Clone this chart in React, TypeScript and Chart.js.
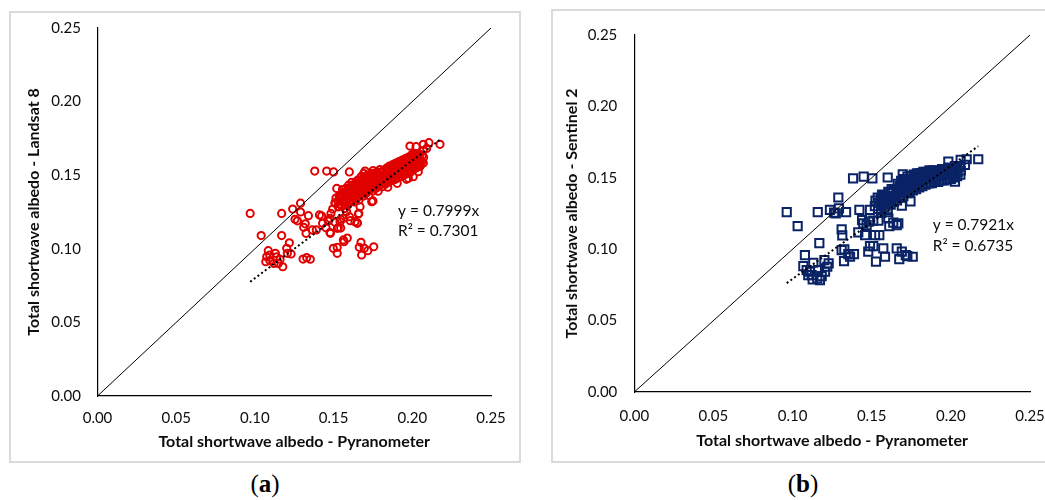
import React, { useEffect, useRef } from "react";
import { Chart, registerables } from "chart.js";

Chart.register(...registerables);

// ---------- data ----------
const tickValues = [0, 0.05, 0.1, 0.15, 0.2, 0.25];
const xAxisTitle = "Total shortwave albedo - Pyranometer";
const yAxisTitleA = "Total shortwave albedo - Landsat 8";
const yAxisTitleB = "Total shortwave albedo - Sentinel 2";
const panelLabels = ["a", "b"];

const slopeLandsat8 = 0.7999;
const r2Landsat8 = 0.7301;
const slopeSentinel2 = 0.7921;
const r2Sentinel2 = 0.6735;

// [pyranometer, Landsat 8]
const landsat8Scattered: [number, number][] = [
  [0.097, 0.124], [0.104, 0.109], [0.117, 0.124], [0.117, 0.109], [0.124, 0.127],
  [0.129, 0.131], [0.129, 0.125], [0.1255, 0.12], [0.127, 0.119], [0.134, 0.1225],
  [0.131, 0.1146], [0.132, 0.117], [0.1325, 0.1105], [0.1365, 0.1128], [0.139, 0.1128],
  [0.138, 0.1528], [0.1456, 0.1528], [0.15, 0.1522], [0.16, 0.1522], [0.152, 0.141],
  [0.17, 0.1528], [0.175, 0.1325], [0.166, 0.124], [0.165, 0.1177], [0.16, 0.1218],
  [0.1606, 0.1191], [0.1545, 0.12], [0.1545, 0.1141], [0.1524, 0.1139], [0.148, 0.1105],
  [0.1424, 0.1223], [0.141, 0.123], [0.1452, 0.1143], [0.1466, 0.1189], [0.1494, 0.127],
  [0.1483, 0.124], [0.1566, 0.1048], [0.1587, 0.1073], [0.1498, 0.1003], [0.1523, 0.101],
  [0.1523, 0.0969], [0.1663, 0.101], [0.1674, 0.1044], [0.1678, 0.0958], [0.1695, 0.1003],
  [0.1717, 0.0987], [0.1755, 0.1014], [0.1306, 0.093], [0.1329, 0.094], [0.1352, 0.0929],
  [0.1085, 0.0987], [0.1075, 0.0946], [0.1069, 0.0912], [0.1096, 0.0919], [0.113, 0.0969],
  [0.1121, 0.0901], [0.116, 0.0929], [0.1177, 0.0878], [0.1149, 0.0901], [0.1206, 0.0969],
  [0.1219, 0.1041], [0.123, 0.0965], [0.1202, 0.1003], [0.1138, 0.0946], [0.143, 0.1173],
  [0.1477, 0.1207], [0.1477, 0.111], [0.153, 0.1143], [0.1541, 0.1184], [0.1509, 0.118],
  [0.1651, 0.1173], [0.1657, 0.1236], [0.1509, 0.1313], [0.153, 0.1286], [0.1742, 0.132],
  [0.1668, 0.1286], [0.1583, 0.1252], [0.1562, 0.1207], [0.1636, 0.1184], [0.1562, 0.106],
  [0.1094, 0.0958],
  [0.2176, 0.171], [0.2106, 0.1721], [0.207, 0.171], [0.2024, 0.1694], [0.1985, 0.1698],
  [0.2091, 0.1682], [0.207, 0.1667], [0.2038, 0.1637], [0.1996, 0.1626], [0.2006, 0.149],
  [0.2038, 0.1524], [0.1975, 0.1479], [0.1954, 0.1513], [0.2049, 0.1569], [0.2028, 0.1603],
];

const landsat8Dense: [number, number][] = [
  [0.151, 0.131], [0.1515, 0.1345], [0.153, 0.1285], [0.1528, 0.1322], [0.1535, 0.1358],
  [0.155, 0.1292], [0.1555, 0.1331], [0.1548, 0.1368], [0.1556, 0.1402],
  [0.157, 0.1308], [0.1575, 0.1352], [0.1568, 0.1384], [0.1572, 0.1274],
  [0.159, 0.1298], [0.1592, 0.1341], [0.1587, 0.1393], [0.1595, 0.1432],
  [0.161, 0.1329], [0.1612, 0.1372], [0.1606, 0.1413], [0.1615, 0.1452],
  [0.163, 0.1318], [0.1634, 0.1362], [0.1628, 0.1405], [0.1636, 0.1441],
  [0.165, 0.1345], [0.1652, 0.1392], [0.1646, 0.1428], [0.1655, 0.1468],
  [0.167, 0.1372], [0.1673, 0.1412], [0.1668, 0.1455], [0.1676, 0.1491], [0.1662, 0.1331],
  [0.169, 0.1358], [0.1692, 0.1401], [0.1688, 0.1443], [0.1695, 0.1482], [0.1691, 0.1512],
  [0.171, 0.1381], [0.1713, 0.1422], [0.1707, 0.1463], [0.1715, 0.1498],
  [0.173, 0.1402], [0.1734, 0.1441], [0.1728, 0.1478], [0.1736, 0.1511], [0.1724, 0.1362],
  [0.175, 0.1393], [0.1752, 0.1432], [0.1748, 0.1472], [0.1755, 0.1503], [0.1751, 0.1532],
  [0.177, 0.1412], [0.1773, 0.1451], [0.1768, 0.1489], [0.1776, 0.1522],
  [0.179, 0.1428], [0.1792, 0.1468], [0.1787, 0.1502], [0.1795, 0.1538], [0.1783, 0.1391],
  [0.181, 0.1422], [0.1813, 0.1458], [0.1808, 0.1493], [0.1815, 0.1531],
  [0.183, 0.1441], [0.1834, 0.1479], [0.1828, 0.1512], [0.1836, 0.1548],
  [0.185, 0.1452], [0.1852, 0.1491], [0.1848, 0.1528], [0.1855, 0.1562], [0.1844, 0.1418],
  [0.187, 0.1463], [0.1873, 0.1502], [0.1868, 0.1541], [0.1876, 0.1572],
  [0.189, 0.1471], [0.1892, 0.1512], [0.1887, 0.1549], [0.1895, 0.1583],
  [0.191, 0.1482], [0.1913, 0.1521], [0.1908, 0.1561], [0.1915, 0.1592], [0.1904, 0.1445],
  [0.193, 0.1493], [0.1934, 0.1532], [0.1928, 0.1571], [0.1936, 0.1603],
  [0.195, 0.1502], [0.1952, 0.1542], [0.1948, 0.1582], [0.1955, 0.1612],
  [0.197, 0.1512], [0.1973, 0.1551], [0.1968, 0.1591], [0.1976, 0.1623], [0.1963, 0.1472],
  [0.199, 0.1522], [0.1992, 0.1562], [0.1987, 0.1601], [0.1995, 0.1638],
  [0.201, 0.1541], [0.2013, 0.1581], [0.2008, 0.1612], [0.2015, 0.1648],
  [0.203, 0.1552], [0.2034, 0.1592], [0.2028, 0.1628],
  [0.205, 0.1561], [0.2052, 0.1601], [0.2048, 0.1642],
  [0.207, 0.1583], [0.2072, 0.1622],
];

const landsat8Core: [number, number][] = [
  [0.154, 0.1305], [0.1542, 0.1348],
  [0.156, 0.1318], [0.1562, 0.1362],
  [0.158, 0.1325], [0.1582, 0.1368], [0.1578, 0.1411],
  [0.16, 0.1318], [0.1602, 0.1361], [0.1598, 0.1412],
  [0.162, 0.1348], [0.1622, 0.1391], [0.1618, 0.1432],
  [0.164, 0.1338], [0.1642, 0.1382], [0.1638, 0.1422], [0.1645, 0.1458],
  [0.166, 0.1365], [0.1662, 0.1408], [0.1658, 0.1448],
  [0.168, 0.1385], [0.1682, 0.1428], [0.1678, 0.1468],
  [0.17, 0.1372], [0.1702, 0.1418], [0.1698, 0.1462], [0.1705, 0.1495],
  [0.172, 0.1392], [0.1722, 0.1438], [0.1718, 0.1482],
  [0.174, 0.1418], [0.1742, 0.1458], [0.1738, 0.1492],
  [0.176, 0.1412], [0.1762, 0.1452], [0.1758, 0.1512],
  [0.178, 0.1438], [0.1782, 0.1478], [0.1778, 0.1512],
  [0.18, 0.1441], [0.1802, 0.1478], [0.1798, 0.1518],
  [0.182, 0.1452], [0.1822, 0.1492], [0.1818, 0.1528],
  [0.184, 0.1462], [0.1842, 0.1502], [0.1838, 0.1538],
  [0.186, 0.1478], [0.1862, 0.1518], [0.1858, 0.1552],
  [0.188, 0.1488], [0.1882, 0.1528], [0.1878, 0.1562],
  [0.19, 0.1498], [0.1902, 0.1541], [0.1898, 0.1572],
  [0.192, 0.1508], [0.1922, 0.1548], [0.1918, 0.1582],
  [0.194, 0.1518], [0.1942, 0.1558], [0.1938, 0.1592],
  [0.196, 0.1528], [0.1962, 0.1568], [0.1958, 0.1602],
  [0.198, 0.1538], [0.1982, 0.1578], [0.1978, 0.1612],
  [0.2, 0.1552], [0.2002, 0.1592], [0.1998, 0.1622],
  [0.202, 0.1562], [0.2022, 0.1602], [0.2018, 0.1635],
  [0.204, 0.1572], [0.2042, 0.1612],
  [0.206, 0.1592], [0.2062, 0.1632],
];

// [pyranometer, Sentinel 2]
const sentinel2Scattered: [number, number][] = [
  [0.0963, 0.126], [0.1032, 0.1162], [0.1159, 0.126], [0.1169, 0.1043], [0.1236, 0.1275],
  [0.1262, 0.1256], [0.1273, 0.1251], [0.1289, 0.1362], [0.1293, 0.1286], [0.1338, 0.126],
  [0.1382, 0.1496], [0.1449, 0.1508], [0.1504, 0.1496], [0.1601, 0.1502], [0.1696, 0.1524],
  [0.131, 0.1139], [0.1314, 0.1097], [0.131, 0.0994], [0.1327, 0.0999], [0.1325, 0.0917],
  [0.1363, 0.0947], [0.1388, 0.0966], [0.1352, 0.0966], [0.1415, 0.1118], [0.1422, 0.1275],
  [0.1489, 0.1275], [0.1439, 0.1204], [0.1447, 0.1181], [0.1483, 0.1193], [0.151, 0.12],
  [0.1542, 0.12], [0.1468, 0.1169], [0.1458, 0.1099], [0.1521, 0.1099], [0.1548, 0.1099],
  [0.1489, 0.1022], [0.151, 0.1022], [0.1478, 0.0983], [0.1527, 0.0913], [0.1573, 0.1006],
  [0.1584, 0.0947], [0.1605, 0.1216], [0.1611, 0.1162], [0.1658, 0.1169], [0.1668, 0.1181],
  [0.1636, 0.1186], [0.1658, 0.1006], [0.1674, 0.0931], [0.169, 0.0983], [0.1715, 0.0959],
  [0.1759, 0.0947], [0.1725, 0.0952], [0.169, 0.1305],
  [0.1078, 0.0959], [0.1068, 0.0882], [0.1089, 0.0854], [0.111, 0.0842], [0.1099, 0.0819],
  [0.1127, 0.0789], [0.1156, 0.0796], [0.1184, 0.0812], [0.1205, 0.0842], [0.1219, 0.0877],
  [0.1228, 0.0901], [0.1201, 0.0924], [0.1131, 0.0905], [0.1162, 0.0854], [0.1173, 0.0784],
  [0.1121, 0.0819],
  [0.1984, 0.1613], [0.2062, 0.1625], [0.21, 0.163], [0.2089, 0.159], [0.2173, 0.163],
  [0.2026, 0.1473], [0.1745, 0.1335], [0.16, 0.126], [0.156, 0.1255],
];

const sentinel2Dense: [number, number][] = [
  [0.152, 0.1302], [0.1524, 0.1341],
  [0.154, 0.1282], [0.1545, 0.1322], [0.1538, 0.1361],
  [0.156, 0.1272], [0.1563, 0.1311], [0.1557, 0.1352], [0.1565, 0.1382],
  [0.158, 0.1292], [0.1584, 0.1331], [0.1577, 0.1372],
  [0.16, 0.1281], [0.1603, 0.1322], [0.1597, 0.1361], [0.1605, 0.1402],
  [0.162, 0.1312], [0.1624, 0.1351], [0.1618, 0.1392], [0.1626, 0.1421],
  [0.164, 0.1332], [0.1643, 0.1371], [0.1637, 0.1412],
  [0.166, 0.1342], [0.1663, 0.1381], [0.1657, 0.1422], [0.1665, 0.1458],
  [0.168, 0.1361], [0.1684, 0.1402], [0.1678, 0.1441], [0.1686, 0.1478],
  [0.17, 0.1372], [0.1703, 0.1412], [0.1697, 0.1452], [0.1705, 0.1491],
  [0.172, 0.1392], [0.1724, 0.1431], [0.1718, 0.1471], [0.1726, 0.1508],
  [0.174, 0.1401], [0.1743, 0.1442], [0.1737, 0.1481], [0.1745, 0.1512],
  [0.176, 0.1412], [0.1763, 0.1452], [0.1757, 0.1491], [0.1765, 0.1522],
  [0.178, 0.1421], [0.1784, 0.1461], [0.1778, 0.1502], [0.1786, 0.1531],
  [0.18, 0.1432], [0.1803, 0.1472], [0.1797, 0.1502], [0.1805, 0.1533],
  [0.182, 0.1441], [0.1824, 0.1482], [0.1818, 0.1511], [0.1826, 0.1542],
  [0.184, 0.1452], [0.1843, 0.1491], [0.1837, 0.1522], [0.1845, 0.1541],
  [0.186, 0.1461], [0.1863, 0.1492], [0.1857, 0.1521], [0.1865, 0.1552],
  [0.188, 0.1462], [0.1884, 0.1502], [0.1878, 0.1532], [0.1886, 0.1551],
  [0.19, 0.1471], [0.1903, 0.1503], [0.1897, 0.1531], [0.1905, 0.1552],
  [0.192, 0.1472], [0.1924, 0.1512], [0.1918, 0.1541],
  [0.194, 0.1481], [0.1943, 0.1512], [0.1937, 0.1542], [0.1945, 0.1561],
  [0.196, 0.1482], [0.1963, 0.1521], [0.1957, 0.1552],
  [0.198, 0.1491], [0.1984, 0.1522], [0.1978, 0.1551], [0.1986, 0.1572],
  [0.2, 0.1492], [0.2003, 0.1532], [0.1997, 0.1561],
  [0.202, 0.1502], [0.2024, 0.1531], [0.2018, 0.1562], [0.2026, 0.1582],
  [0.204, 0.1511], [0.2043, 0.1542], [0.2037, 0.1571],
  [0.206, 0.1522], [0.2063, 0.1551], [0.2057, 0.1582],
];

// ---------- styling ----------
const FONT = "Lato, 'Open Sans', 'DejaVu Sans', sans-serif";
const TEXT = "#0d0d0d";

const equationPlugin = {
  id: "equation",
  afterDraw(chart: any, _args: any, opts: any) {
    if (!opts || !opts.lines) return;
    const ctx = chart.ctx;
    ctx.save();
    ctx.font = `${opts.size}px ${FONT}`;
    ctx.fillStyle = TEXT;
    ctx.textAlign = "left";
    ctx.textBaseline = "middle";
    opts.lines.forEach((t: string, i: number) => {
      ctx.fillText(t, opts.x, opts.y + i * opts.gap);
    });
    ctx.restore();
  },
};

type PanelProps = {
  left: number;
  top: number;
  width: number;
  height: number;
  plotLeft: number;
  plotTop: number;
  plotRight: number;
  plotBottom: number;
  xTickPad: number;
  yTickPad: number;
  xTitlePad: number;
  yTitlePad: number;
  yTitle: string;
  name: string;
  points: [number, number][];
  color: string;
  pointStyle: string;
  radius: number;
  pointBorder: number;
  slope: number;
  r2: number;
  eqX: number;
  eqY: number;
  eqGap: number;
};

function Panel(p: PanelProps) {
  const ref = useRef<HTMLCanvasElement>(null);
  useEffect(() => {
    if (!ref.current) return;
    const xs = p.points.map((d) => d[0]);
    const minX = Math.min(...xs);
    const maxX = Math.max(...xs);
    const tickFont = { family: FONT, size: 15 };
    const titleFont = { family: FONT, size: 16, weight: "bold" as const };
    const fmt = (v: any) => Number(v).toFixed(2);
    const setTicks = (s: any) => {
      s.ticks = tickValues.map((v) => ({ value: v }));
    };
    const chart = new Chart(ref.current, {
      type: "scatter",
      data: {
        datasets: [
          {
            label: "Linear trend",
            data: [
              { x: minX, y: p.slope * minX },
              { x: maxX, y: p.slope * maxX },
            ],
            showLine: true,
            borderColor: "#000",
            borderWidth: 2,
            borderDash: [2, 2.6],
            pointRadius: 0,
            fill: false,
          } as any,
          {
            label: "1:1",
            data: [
              { x: 0, y: 0 },
              { x: 0.25, y: 0.25 },
            ],
            showLine: true,
            borderColor: "#000",
            borderWidth: 1,
            pointRadius: 0,
            fill: false,
          } as any,
          {
            label: p.name,
            data: p.points.map(([x, y]) => ({ x, y })),
            showLine: false,
            pointStyle: p.pointStyle,
            pointRadius: p.radius,
            pointBorderWidth: p.pointBorder,
            pointBorderColor: p.color,
            pointBackgroundColor: "rgba(0,0,0,0)",
            borderColor: p.color,
            backgroundColor: "rgba(0,0,0,0)",
          } as any,
        ],
      },
      options: {
        responsive: false,
        animation: false,
        devicePixelRatio: 1,
        events: [],
        layout: {
          padding: {
            left: 0,
            top: p.plotTop,
            right: p.width - p.plotRight,
            bottom: 0,
          },
        },
        plugins: {
          legend: { display: false },
          tooltip: { enabled: false },
          equation: {
            lines: [`y = ${p.slope.toFixed(4)}x`, `R² = ${p.r2.toFixed(4)}`],
            x: p.eqX,
            y: p.eqY,
            gap: p.eqGap,
            size: 15.5,
          },
        } as any,
        scales: {
          x: {
            type: "linear",
            min: 0,
            max: 0.25,
            grid: { display: false, drawTicks: false },
            border: { display: true, color: "#000", width: 1.2 },
            ticks: {
              padding: p.xTickPad,
              font: tickFont,
              color: TEXT,
              callback: fmt,
              maxRotation: 0,
              autoSkip: false,
            },
            title: {
              display: true,
              text: xAxisTitle,
              font: titleFont,
              color: TEXT,
              padding: { top: 0, bottom: p.xTitlePad },
            },
            afterBuildTicks: setTicks,
            afterFit: (s: any) => {
              s.height = p.height - p.plotBottom;
              s.paddingLeft = 0;
              s.paddingRight = 0;
              s.paddingTop = 0;
              s.paddingBottom = 0;
            },
          },
          y: {
            type: "linear",
            min: 0,
            max: 0.25,
            grid: { display: false, drawTicks: false },
            border: { display: true, color: "#000", width: 1.2 },
            ticks: {
              padding: p.yTickPad,
              font: tickFont,
              color: TEXT,
              callback: fmt,
              autoSkip: false,
            },
            title: {
              display: true,
              text: p.yTitle,
              font: titleFont,
              color: TEXT,
              padding: { top: p.yTitlePad, bottom: 0 },
            },
            afterBuildTicks: setTicks,
            afterFit: (s: any) => {
              s.width = p.plotLeft;
              s.paddingLeft = 0;
              s.paddingRight = 0;
              s.paddingTop = 0;
              s.paddingBottom = 0;
            },
          },
        },
      } as any,
      plugins: [equationPlugin as any],
    });
    return () => chart.destroy();
  }, []);

  return (
    <canvas
      ref={ref}
      width={p.width}
      height={p.height}
      style={{
        position: "absolute",
        left: p.left,
        top: p.top,
        width: p.width,
        height: p.height,
      }}
    />
  );
}

function FrameBox({ left, top, width, height }: { left: number; top: number; width: number; height: number }) {
  return (
    <div
      style={{
        position: "absolute",
        left,
        top,
        width,
        height,
        border: "2px solid #dadada",
        boxSizing: "border-box",
        pointerEvents: "none",
      }}
    />
  );
}

function PanelLabel({ cx, letter }: { cx: number; letter: string }) {
  return (
    <div
      style={{
        position: "absolute",
        left: cx - 50,
        top: 469,
        width: 100,
        height: 30,
        lineHeight: "30px",
        textAlign: "center",
        fontFamily: "'Liberation Serif', 'Times New Roman', serif",
        fontSize: 25,
        color: "#000",
      }}
    >
      (<b>{letter}</b>)
    </div>
  );
}

export default function App() {
  return (
    <div
      style={{
        position: "fixed",
        left: 0,
        top: 0,
        width: 1045,
        height: 500,
        overflow: "hidden",
        background: "#fff",
      }}
    >
      <Panel
        left={9}
        top={11}
        width={512}
        height={452}
        plotLeft={88.5}
        plotTop={17}
        plotRight={482}
        plotBottom={385}
        xTickPad={12.7}
        yTickPad={16.5}
        xTitlePad={12}
        yTitlePad={15.5}
        yTitle={yAxisTitleA}
        name="Landsat 8"
        points={[...landsat8Scattered, ...landsat8Dense, ...landsat8Core]}
        color="#e00000"
        pointStyle="circle"
        radius={3.6}
        pointBorder={2}
        slope={slopeLandsat8}
        r2={r2Landsat8}
        eqX={389}
        eqY={200}
        eqGap={20}
      />
      <FrameBox left={9} top={11} width={512} height={452} />
      <Panel
        left={551}
        top={9}
        width={500}
        height={454}
        plotLeft={83.3}
        plotTop={26}
        plotRight={479}
        plotBottom={383}
        xTickPad={15}
        yTickPad={17}
        xTitlePad={13}
        yTitlePad={11.5}
        yTitle={yAxisTitleB}
        name="Sentinel 2"
        points={[...sentinel2Scattered, ...sentinel2Dense]}
        color="#0a2366"
        pointStyle="rect"
        radius={5.8}
        pointBorder={2}
        slope={slopeSentinel2}
        r2={r2Sentinel2}
        eqX={381.7}
        eqY={216}
        eqGap={21}
      />
      <FrameBox left={551} top={9} width={520} height={454} />
      <PanelLabel cx={265} letter={panelLabels[0]} />
      <PanelLabel cx={803} letter={panelLabels[1]} />
    </div>
  );
}
